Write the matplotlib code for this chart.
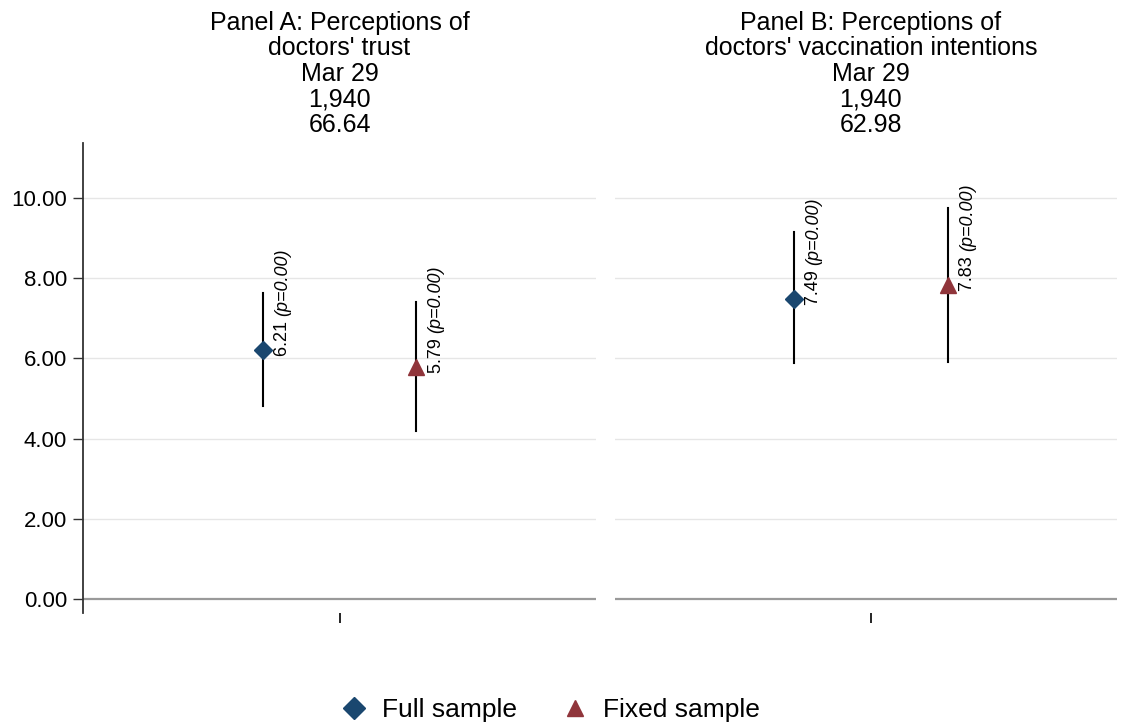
import numpy as np
import matplotlib
matplotlib.use("Agg")
import matplotlib.pyplot as plt
import matplotlib.transforms as mtransforms
from matplotlib.lines import Line2D

plt.rcParams['font.family'] = ['Liberation Sans', 'DejaVu Sans']

# data
panel_titles = ["Panel A: Perceptions of\ndoctors' trust",
                "Panel B: Perceptions of\ndoctors' vaccination intentions"]
survey_dates = ["Mar 29", "Mar 29"]
n_obs = ["1,940", "1,940"]
means = ["66.64", "62.98"]

full_est = [6.21, 7.49]
full_lo = [4.81, 5.89]
full_hi = [7.63, 9.14]
full_p = ["0.00", "0.00"]

fixed_est = [5.79, 7.83]
fixed_lo = [4.19, 5.92]
fixed_hi = [7.41, 9.76]
fixed_p = ["0.00", "0.00"]

yticks = [0, 2, 4, 6, 8, 10]

navy = '#1a476f'
maroon = '#90353b'

fig = plt.figure(figsize=(11.21, 7.26), dpi=100)
renderer = fig.canvas.get_renderer()
W, H = 1121, 726
top_px, bot_px = 143, 613
boxes = [(83, 596), (615, 1117)]
xlims = [(0.5, 1.5), (0.501, 1.48)]


def est_label(ax, x, est, p):
    # number upright, p-value italic, both turned 90 degrees
    t1 = ax.annotate(f"{est:.2f} ", xy=(x, est), xytext=(8, -4.5), textcoords='offset points',
                     rotation=90, rotation_mode='anchor', ha='left', va='top', fontsize=13)
    ext = t1.get_window_extent(renderer)
    shift = ext.height * 72 / fig.dpi
    ax.annotate(f"(p={p})", xy=(x, est), xytext=(8, -4.5 + shift), textcoords='offset points',
                rotation=90, rotation_mode='anchor', ha='left', va='top', fontsize=13,
                fontstyle='italic')


for i in range(2):
    l, r = boxes[i]
    ax = fig.add_axes([l / W, (H - bot_px) / H, (r - l) / W, (bot_px - top_px) / H])
    ax.set_xlim(*xlims[i])
    ax.set_ylim(-0.35, 11.37)

    for y in yticks[1:]:
        ax.axhline(y, color='#e6e6e6', lw=1, zorder=0)
    ax.axhline(0, color='#9a9a9a', lw=1.6, zorder=0)

    # full sample
    xf = 1 - 0.15
    ax.plot([xf, xf], [full_lo[i], full_hi[i]], color='black', lw=1.5, zorder=2)
    ax.plot(xf, full_est[i], marker='D', color=navy, ms=9.5, mec=navy, zorder=3)
    est_label(ax, xf, full_est[i], full_p[i])

    # fixed sample
    xx = 1 + 0.15
    ax.plot([xx, xx], [fixed_lo[i], fixed_hi[i]], color='black', lw=1.5, zorder=2)
    ax.plot(xx, fixed_est[i], marker='^', color=maroon, ms=11, mec=maroon, zorder=3)
    est_label(ax, xx, fixed_est[i], fixed_p[i])

    for s in ['top', 'right', 'bottom']:
        ax.spines[s].set_visible(False)
    ax.set_xticks([1])
    ax.set_xticklabels([''])
    ax.tick_params(axis='x', length=7, width=1.2, color='black')

    if i == 0:
        ax.spines['left'].set_color('#333333')
        ax.spines['left'].set_linewidth(1.3)
        ax.set_yticks(yticks)
        ax.set_yticklabels([f"{v:.2f}" for v in yticks], fontsize=16)
        ax.tick_params(axis='y', length=7, width=1, color='#333333', pad=4.5)
    else:
        ax.spines['left'].set_visible(False)
        ax.set_yticks([])

    trans = mtransforms.blended_transform_factory(ax.transData, ax.transAxes)
    title = f"{panel_titles[i]}\n{survey_dates[i]}\n{n_obs[i]}\n{means[i]}"
    ax.annotate(title, xy=(1, 1), xycoords=trans, xytext=(0, 4.5), textcoords='offset points',
                ha='center', va='bottom', fontsize=18, linespacing=1.08)

handles = [Line2D([], [], marker='D', color=navy, ls='none', ms=11),
           Line2D([], [], marker='^', color=maroon, ls='none', ms=12)]
fig.legend(handles, ['Full sample', 'Fixed sample'], loc='center', ncol=2,
           bbox_to_anchor=(0.485, 0.022), frameon=False, fontsize=19,
           handletextpad=0.05, columnspacing=1.2)

fig.savefig('out.png', dpi=100)
